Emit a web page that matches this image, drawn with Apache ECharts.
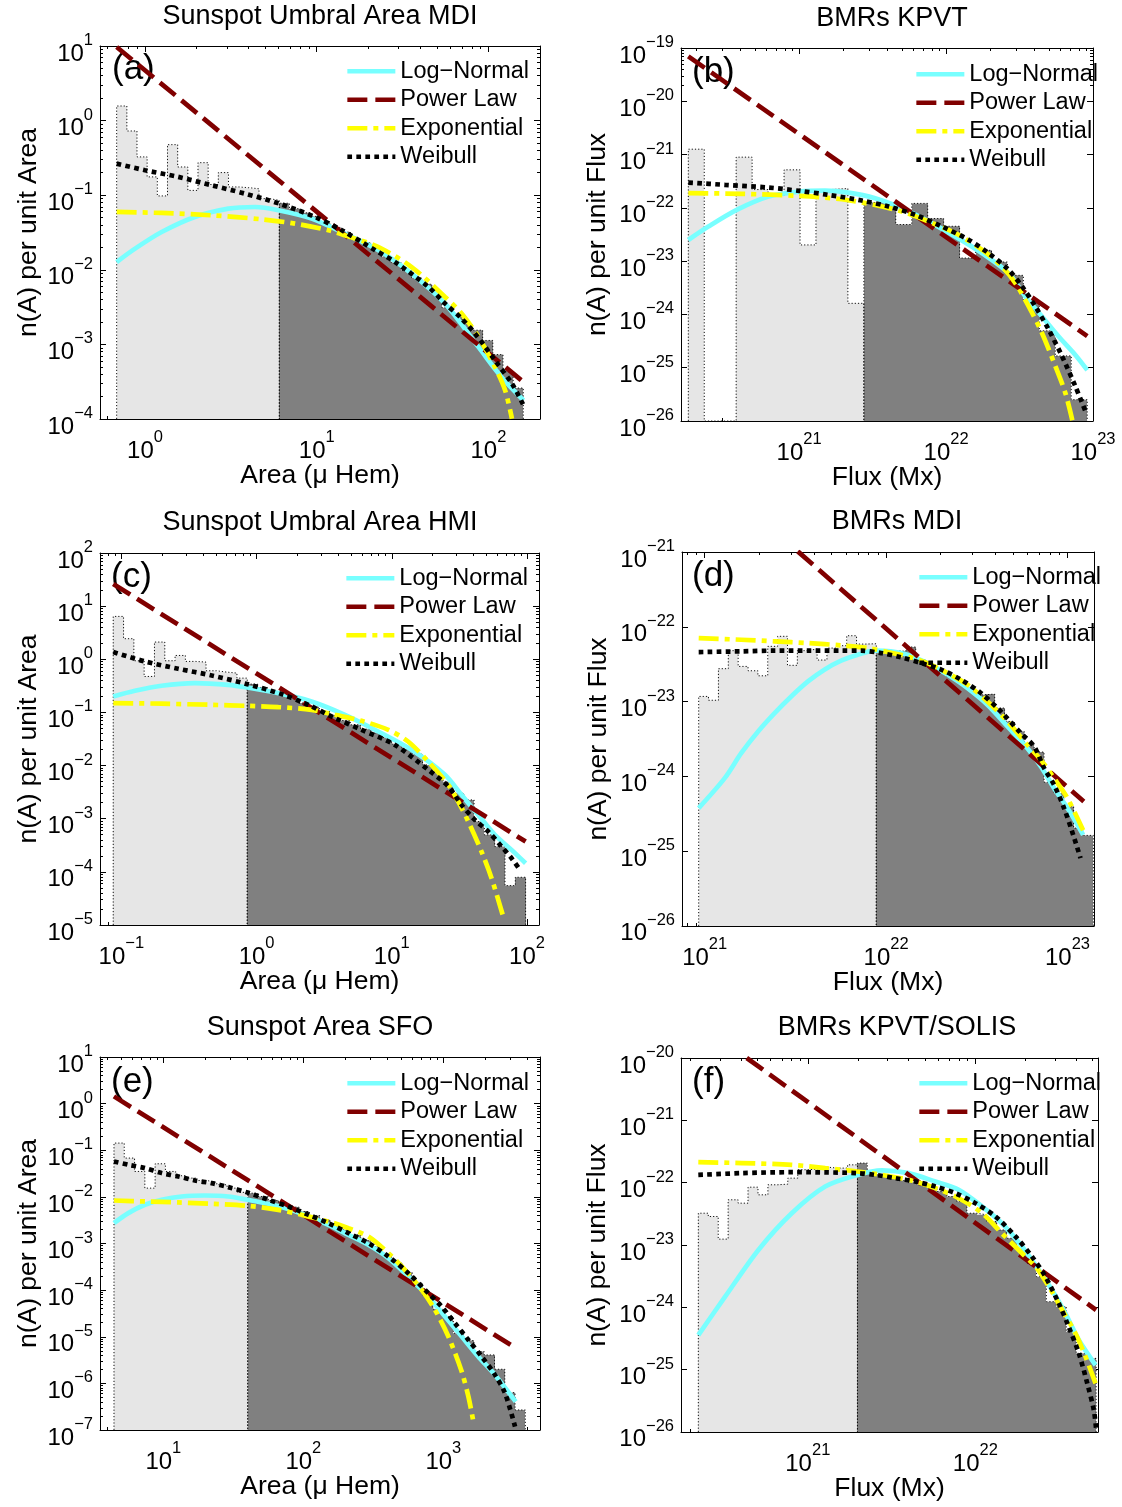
<!DOCTYPE html>
<html><head><meta charset="utf-8">
<script src="https://cdn.jsdelivr.net/npm/echarts@6/dist/echarts.min.js"></script>
<style>html,body{margin:0;padding:0;background:#fff}#main{width:1122px;height:1507px}</style>
</head><body><div id="main"></div>
<script>
// ---------------- DATA ----------------
const seriesNames = ['Log\u2212Normal', 'Power Law', 'Exponential', 'Weibull'];

// (a) Sunspot Umbral Area MDI
const aEdges = [0.684,0.784,0.898,1.029,1.180,1.352,1.550,1.776,2.035,2.332,2.673,3.063,3.511,4.023,4.611,5.284,6.056,6.940,7.954,9.116,10.45,11.97,13.72,15.73,18.02,20.65,23.67,27.13,31.09,35.63,40.83,46.80,53.63,61.47,70.45,80.72,92.52,106.0,121.5,139.3,159.6];
const aCounts = [1.57,0.726,0.326,0.176,0.0978,0.476,0.239,0.116,0.273,0.139,0.201,0.129,0.126,0.122,0.0899,0.0855,
  0.078,0.066,0.058,0.052,0.044,0.037,0.032,0.026,0.023,0.019,0.0150,0.0125,0.0098,0.0078,0.0064,0.0048,0.0031,0.0026,0.0019,0.00155,0.00113,0.00073,0.00043,0.00026];
const aCut = 6.056;
const aLogNormal = [[0.684,0.0127],[0.875,0.0192],[1.25,0.0321],[1.95,0.0511],[3.06,0.0661],[4.37,0.0695],[5.98,0.0628],[9.35,0.0485],[14.6,0.0305],[22.9,0.0183],[35.7,0.00889],[55.9,0.00352],[87.4,0.000925],[119,0.000366],[160,0.000178]];
const aPower = [[0.684,9.70],[160,3.13e-4]];
const aExp = [[0.684,0.0596],[1.25,0.0578],[2.44,0.0538],[4.78,0.0475],[7.48,0.0416],[11.7,0.0339],[16.7,0.0262],[22.9,0.0202],[35.7,0.0109],[55.9,0.00433],[69.8,0.00259],[87.4,0.00126],[109,0.000499],[125,0.000243],[137,0.000101]];
const aWeibull = [[0.684,0.265],[1.0,0.216],[1.56,0.176],[2.44,0.136],[3.82,0.105],[6.06,0.0771],[9.77,0.0511],[14.0,0.0339],[21.9,0.0183],[28.6,0.0127],[44.7,0.00589],[55.9,0.00352],[68.3,0.00233],[83.5,0.00140],[109,0.000613],[137,0.000298],[160,0.000153]];

// (b) BMRs KPVT
const bEdges = [1.761e20,2.261e20,2.903e20,3.727e20,4.786e20,6.147e20,7.895e20,1.014e21,1.302e21,1.672e21,2.146e21,2.756e21,3.539e21,4.545e21,5.838e21,7.496e21,9.625e21,1.236e22,1.587e22,2.038e22,2.617e22,3.360e22,4.315e22,5.542e22,7.116e22,9.140e22];
const bCounts = [1.26e-21,0,0,8.93e-22,2.2e-22,1.7e-22,5.16e-22,2.01e-23,2.2e-22,2.3e-22,1.61e-24,
  1.26e-22,1.26e-22,4.86e-23,1.21e-22,6.3e-23,4.5e-23,1.14e-23,1.59e-23,9.6e-24,5.4e-24,1.82e-24,4.9e-25,1.66e-25,2.5e-26];
const bCut = 2.756e21;
const bLogNormal = [[1.76e20,2.49e-23],[2.41e20,4.44e-23],[3.76e20,9.14e-23],[6.18e20,1.63e-22],[1e21,2.02e-22],[1.50e21,2.11e-22],[2.17e21,1.93e-22],[3.29e21,1.51e-22],[5.01e21,9.82e-23],[7.62e21,5.51e-23],[1.16e22,2.88e-23],[1.76e22,1.40e-23],[2.67e22,5.89e-24],[3.47e22,2.14e-24],[4.51e22,9.02e-25],[5.86e22,3.79e-25],[7.61e22,1.71e-25],[9.14e22,8.97e-26]];
const bPower = [[1.76e20,6.97e-20],[9.14e22,3.91e-25]];
const bExp = [[1.76e20,1.88e-22],[4.06e20,1.83e-22],[1e21,1.67e-22],[1.95e21,1.45e-22],[3.29e21,1.13e-22],[5.01e21,8.50e-23],[7.62e21,5.51e-23],[1.16e22,3.33e-23],[1.76e22,1.62e-23],[2.41e22,7.86e-24],[2.97e22,3.82e-24],[3.66e22,1.39e-24],[4.51e22,4.38e-25],[5.56e22,1.04e-25],[6.50e22,3.27e-26],[7.23e22,1.03e-26]];
const bWeibull = [[1.76e20,2.98e-22],[3.13e20,2.70e-22],[6.18e20,2.40e-22],[1e21,2.08e-22],[1.58e21,1.75e-22],[2.67e21,1.37e-22],[4.06e21,1.06e-22],[6.18e21,7.36e-23],[9.40e21,4.44e-23],[1.43e22,2.49e-23],[1.95e22,1.40e-23],[2.67e22,6.81e-24],[3.30e22,3.30e-24],[4.06e22,1.39e-24],[5.01e22,5.07e-25],[6.18e22,1.60e-25],[7.61e22,4.36e-26],[8.91e22,1.48e-26]];

// (c) Sunspot Umbral Area HMI
const cEdges = [0.08706,0.1038,0.1237,0.1474,0.1757,0.2095,0.2496,0.2975,0.3547,0.4227,0.5039,0.6006,0.7159,0.8533,1.017,1.212,1.445,1.722,2.053,2.447,2.917,3.476,4.144,4.939,5.887,7.017,8.364,9.967,11.88,14.16,16.88,20.12,23.98,28.58,34.07,40.61,48.40,57.69,68.76,81.96,97.68];
const cCounts = [6.41,2.44,0.938,0.475,2.11,0.938,1.18,0.912,0.885,0.608,0.574,0.550,0.442,
  0.341,0.295,0.248,0.215,0.181,0.150,0.126,0.104,0.0865,0.0706,0.0585,0.0485,0.0408,0.0338,0.0253,0.0207,0.0164,0.0103,0.00773,0.00486,0.00302,0.00226,0.000885,0.000497,0.000299,5.51e-5,7.91e-5];
const cCut = 0.8533;
const cLogNormal = [[0.0871,0.200],[0.126,0.255],[0.198,0.318],[0.350,0.356],[0.617,0.331],[0.853,0.295],[1.45,0.231],[2.55,0.161],[4.50,0.0902],[7.94,0.0438],[14.0,0.0198],[24.7,0.00669],[32.8,0.00281],[43.6,0.00118],[57.9,0.000496],[76.9,0.000259],[97.7,0.000145]];
const cPower = [[0.0871,26.1],[97.7,3.72e-4]];
const cExp = [[0.0871,0.150],[0.198,0.146],[0.465,0.139],[0.853,0.133],[1.45,0.126],[2.55,0.112],[3.80,0.0902],[5.98,0.0695],[9.42,0.0471],[13.2,0.0284],[18.6,0.0119],[26.2,0.00434],[31.0,0.00210],[36.8,0.000885],[46.1,0.000241],[54.7,7.59e-5],[66.7,1.44e-5]];
const cWeibull = [[0.0871,1.37],[0.149,0.912],[0.263,0.664],[0.465,0.497],[0.853,0.341],[1.53,0.221],[2.41,0.139],[3.80,0.0782],[5.98,0.0471],[10.5,0.0246],[18.6,0.00832],[26.2,0.00404],[32.8,0.00182],[41.2,0.000951],[51.7,0.000573],[64.9,0.000299],[76.9,0.000180],[88.7,0.000109]];

// (d) BMRs MDI
const dEdges = [9.268e20,1.050e21,1.191e21,1.350e21,1.530e21,1.734e21,1.965e21,2.227e21,2.524e21,2.861e21,3.243e21,3.675e21,4.166e21,4.721e21,5.351e21,6.065e21,6.874e21,7.791e21,8.831e21,1.001e22,1.134e22,1.286e22,1.457e22,1.652e22,1.872e22,2.122e22,2.405e22,2.726e22,3.090e22,3.502e22,3.969e22,4.499e22,5.099e22,5.779e22,6.550e22,7.425e22,8.414e22,9.537e22,1.081e23,1.225e23,1.389e23];
const dCounts = [1.17e-23,1.04e-23,2.75e-23,4.79e-23,2.95e-23,2.58e-23,2.21e-23,5.47e-23,7.45e-23,3.05e-23,4.79e-23,5.04e-23,3.59e-23,5.19e-23,5.58e-23,7.59e-23,5.87e-23,5.93e-23,
  4.83e-23,4.79e-23,4.69e-23,5.36e-23,3.62e-23,3.10e-23,2.67e-23,2.17e-23,1.86e-23,1.51e-23,1.23e-23,1.26e-23,8.18e-24,5.42e-24,3.98e-24,2.64e-24,2.11e-24,8.35e-25,5.95e-25,3.95e-25,2.03e-25,1.62e-25];
const dCut = 8.831e21;
const dLogNormal = [[9.27e20,3.76e-25],[1.29e21,9.46e-25],[1.59e21,2.04e-24],[1.97e21,3.98e-24],[2.43e21,7.01e-24],[3.00e21,1.17e-23],[3.71e21,1.86e-23],[4.57e21,2.67e-23],[5.65e21,3.52e-23],[6.98e21,4.23e-23],[8.63e21,4.79e-23],[1.06e22,4.69e-23],[1.31e22,4.23e-23],[1.69e22,3.27e-23],[2.18e22,2.29e-23],[2.81e22,1.51e-23],[3.62e22,9.05e-24],[4.67e22,4.65e-24],[6.01e22,2.38e-24],[7.13e22,1.35e-24],[8.43e22,6.95e-25],[1.00e23,3.76e-25],[1.22e23,1.65e-25]];
const dPower = [[3.26e21,1.02e-21],[1.23e23,4.61e-25]];
const dExp = [[9.27e20,7.06e-23],[1.59e21,6.71e-23],[2.43e21,6.38e-23],[3.71e21,6.05e-23],[5.65e21,5.64e-23],[7.92e21,5.19e-23],[1.02e22,4.59e-23],[1.31e22,4.02e-23],[1.69e22,3.27e-23],[2.18e22,2.40e-23],[2.81e22,1.68e-23],[3.62e22,1.00e-23],[4.67e22,5.42e-24],[6.01e22,2.64e-24],[7.13e22,1.66e-24],[8.43e22,9.46e-25],[1.00e23,5.11e-25],[1.24e23,1.74e-25]];
const dWeibull = [[9.27e20,4.59e-23],[1.59e21,4.69e-23],[2.43e21,4.79e-23],[3.71e21,4.79e-23],[5.65e21,4.79e-23],[7.28e21,4.79e-23],[9.38e21,4.45e-23],[1.21e22,3.90e-23],[1.56e22,3.27e-23],[2.01e22,2.67e-23],[2.59e22,1.96e-23],[3.33e22,1.30e-23],[4.29e22,7.38e-24],[5.53e22,3.78e-24],[6.55e22,2.51e-24],[7.43e22,1.29e-24],[8.43e22,7.70e-25],[9.57e22,3.76e-25],[1.06e23,1.83e-25],[1.18e23,8.04e-26]];

// (e) Sunspot Area SFO
const eEdges = [4.443,5.261,6.231,7.379,8.738,10.35,12.25,14.51,17.19,20.35,24.10,28.55,33.81,40.04,47.42,56.16,66.51,78.76,93.27,110.5,130.8,154.9,183.5,217.3,257.3,304.7,360.9,427.4,506.1,599.4,709.8,840.6,995.4,1179,1396,1653,1958,2319,2746,3252,3852];
const eCounts = [0.1426,0.0679,0.0351,0.0154,0.0513,0.0351,0.0284,0.0253,0.0225,0.0204,0.0182,0.0154,0.0125,
  0.0120,0.0102,0.00837,0.00711,0.00603,0.00486,0.00399,0.00322,0.00252,0.00196,0.00153,0.00116,0.000862,0.000600,0.000391,0.000238,0.000141,7.91e-5,3.89e-5,2.71e-5,1.19e-5,8.28e-6,4.81e-6,4.07e-6,2.01e-6,6.32e-7,2.69e-7];
const eCut = 40.04;
const eLogNormal = [[4.44,0.00273],[5.62,0.00448],[7.39,0.00676],[9.73,0.00865],[13.5,0.0102],[19.8,0.0107],[29.1,0.0102],[40.0,0.00865],[56.2,0.00711],[78.1,0.00546],[109,0.00380],[151,0.00252],[210,0.00153],[291,0.000936],[405,0.000484],[562,0.000196],[781,7.28e-5],[1028,2.71e-5],[1352,1.01e-5],[1778,3.75e-6],[2338,1.52e-6],[3286,4.06e-7]];
const ePower = [[4.44,1.43],[3162,6.15e-6]];
const eExp = [[4.44,0.00837],[7.39,0.00797],[12.8,0.00759],[22.1,0.00711],[40.0,0.00644],[66.2,0.00528],[97.3,0.00412],[151,0.00297],[210,0.00213],[291,0.00141],[405,0.000620],[532,0.000272],[700,0.000101],[871,3.77e-5],[1086,1.01e-5],[1352,1.79e-6],[1510,5.2e-7],[1638,1.51e-7]];
const eWeibull = [[4.44,0.0575],[5.62,0.0489],[7.39,0.0414],[9.73,0.0324],[12.8,0.0274],[16.8,0.0225],[22.1,0.0197],[29.1,0.0162],[40.0,0.0124],[56.2,0.00865],[78.1,0.00622],[109,0.00412],[151,0.00273],[210,0.00167],[291,0.00102],[405,0.000526],[562,0.000231],[781,8.59e-5],[972,4.45e-5],[1211,1.95e-5],[1510,8.55e-6],[1878,3.75e-6],[2338,1.52e-6],[2757,6.12e-7],[3251,1.18e-7]];

// (f) BMRs KPVT/SOLIS
const fEdges = [2.221e20,2.546e20,2.919e20,3.346e20,3.836e20,4.398e20,5.042e20,5.780e20,6.627e20,7.597e20,8.710e20,9.990e20,1.145e21,1.313e21,1.505e21,1.726e21,1.979e21,2.268e21,2.601e21,2.982e21,3.419e21,3.920e21,4.494e21,5.152e21,5.907e21,6.772e21,7.764e21,8.901e21,1.021e22,1.170e22,1.341e22,1.538e22,1.763e22,2.022e22,2.318e22,2.657e22,3.046e22,3.493e22,4.004e22,4.591e22,5.263e22];
const fCounts = [3.23e-23,2.86e-23,1.24e-23,5.30e-23,4.68e-23,8.45e-23,6.37e-23,9.23e-23,9.45e-23,1.18e-22,1.61e-22,1.65e-22,1.77e-22,1.71e-22,1.71e-22,1.93e-22,
  2.06e-22,1.51e-22,1.33e-22,1.18e-22,1.08e-22,1.00e-22,9.23e-23,8.15e-23,7.21e-23,5.99e-23,4.98e-23,3.23e-23,3.04e-23,2.37e-23,1.74e-23,1.28e-23,8.32e-24,5.08e-24,3.10e-24,1.23e-24,1.02e-24,4.06e-25,1.82e-25,1.51e-25];
const fCut = 1.979e21;
const fLogNormal = [[2.22e20,3.58e-25],[3.21e20,1.48e-24],[5.07e20,8.32e-24],[8.02e20,3.23e-23],[1.27e21,8.67e-23],[1.98e21,1.33e-22],[2.77e21,1.57e-22],[4.00e21,1.42e-22],[5.77e21,1.04e-22],[7.96e21,7.66e-23],[1.10e22,4.13e-23],[1.44e22,2.23e-23],[1.90e22,9.41e-24],[2.39e22,3.97e-24],[2.87e22,1.89e-24],[3.45e22,8.00e-25],[4.15e22,2.98e-25],[5.22e22,1.18e-25]];
const fPower = [[4.32e20,1e-20],[5.26e22,9.04e-25]];
const fExp = [[2.22e20,2.13e-22],[4.03e20,2.06e-22],[8.02e20,1.93e-22],[1.27e21,1.71e-22],[1.98e21,1.51e-22],[2.77e21,1.33e-22],[4.00e21,1.11e-22],[5.77e21,8.15e-23],[7.96e21,5.62e-23],[1.10e22,3.23e-23],[1.44e22,1.54e-23],[1.90e22,7.36e-24],[2.29e22,4.49e-24],[2.75e22,2.14e-24],[3.30e22,9.04e-25],[3.96e22,3.81e-25],[4.55e22,1.61e-25],[5.22e22,6.00e-26]];
const fWeibull = [[2.22e20,1.33e-22],[4.03e20,1.42e-22],[8.02e20,1.47e-22],[1.27e21,1.46e-22],[1.98e21,1.42e-22],[2.53e21,1.33e-22],[3.32e21,1.18e-22],[4.38e21,1.04e-22],[5.77e21,8.67e-23],[7.60e21,6.77e-23],[1.00e22,4.68e-23],[1.32e22,2.86e-23],[1.74e22,1.36e-23],[2.18e22,6.50e-24],[2.62e22,3.10e-24],[3.15e22,1.16e-24],[3.61e22,4.88e-25],[4.15e22,1.82e-25],[4.66e22,6.00e-26],[5.10e22,2.23e-26],[5.26e22,1.13e-26]];

// ---------------- LAYOUT / STYLE ----------------
const FONT = '"Liberation Sans", Arial, Helvetica, sans-serif';
const panels = [
  {title:'Sunspot Umbral Area MDI', letter:'(a)', xName:'Area (\u03bc Hem)', yName:'n(A) per unit Area',
   edges:aEdges, counts:aCounts, cut:aCut, curves:[aLogNormal,aPower,aExp,aWeibull],
   grid:{left:100,top:46,width:440,height:373}, xRange:[0.547,199.6], yRange:[1e-4,10],
   titlePos:[320,16.5], letterPos:[112,69], legendPos:[345,57], yNameGap:58},
  {title:'BMRs KPVT', letter:'(b)', xName:'Flux (Mx)', yName:'n(A) per unit Flux',
   edges:bEdges, counts:bCounts, cut:bCut, curves:[bLogNormal,bPower,bExp,bWeibull],
   grid:{left:681,top:48,width:412,height:373}, xRange:[1.57e20,1e23], yRange:[0.995e-26,1e-19],
   titlePos:[892,19], letterPos:[692,72], legendPos:[914,60], yNameGap:70},
  {title:'Sunspot Umbral Area HMI', letter:'(c)', xName:'Area (\u03bc Hem)', yName:'n(A) per unit Area',
   edges:cEdges, counts:cCounts, cut:cCut, curves:[cLogNormal,cPower,cExp,cWeibull],
   grid:{left:100,top:553,width:439,height:372}, xRange:[0.0695,122.7], yRange:[1e-5,100],
   titlePos:[320,523], letterPos:[111,577], legendPos:[344,564], yNameGap:58},
  {title:'BMRs MDI', letter:'(d)', xName:'Flux (Mx)', yName:'n(A) per unit Flux',
   edges:dEdges, counts:dCounts, cut:dCut, curves:[dLogNormal,dPower,dExp,dWeibull],
   grid:{left:682,top:552,width:412,height:374}, xRange:[7.5e20,1.4e23], yRange:[0.995e-26,1e-21],
   titlePos:[897,522], letterPos:[692,576], legendPos:[917,563], yNameGap:70},
  {title:'Sunspot Area SFO', letter:'(e)', xName:'Area (\u03bc Hem)', yName:'n(A) per unit Area',
   edges:eEdges, counts:eCounts, cut:eCut, curves:[eLogNormal,ePower,eExp,eWeibull],
   grid:{left:100,top:1057,width:440,height:373}, xRange:[3.53,4900], yRange:[1e-7,10],
   titlePos:[320,1028], letterPos:[111,1082], legendPos:[345,1069], yNameGap:58},
  {title:'BMRs KPVT/SOLIS', letter:'(f)', xName:'Flux (Mx)', yName:'n(A) per unit Flux',
   edges:fEdges, counts:fCounts, cut:fCut, curves:[fLogNormal,fPower,fExp,fWeibull],
   grid:{left:681,top:1058,width:417,height:374}, xRange:[1.75e20,5.4e22], yRange:[0.995e-26,1e-20],
   titlePos:[897,1028], letterPos:[692,1082], legendPos:[917,1069], yNameGap:70}
];
const curveStyles = [
  {color:'#78ffff', width:4.7, type:'solid', smooth:0.3},
  {color:'#800000', width:4.7, type:[20,8], smooth:false},
  {color:'#ffff00', width:4.7, type:[20,6,5,6], smooth:0.3},
  {color:'#000000', width:4.7, type:[4.7,4.3], smooth:0.3}
];
const LIGHT = '#e6e6e6', DARK = '#808080';

const RICH = {
  b:{fontSize:24, fontFamily:FONT, color:'#000', lineHeight:34, verticalAlign:'bottom'},
  s:{fontSize:16.5, fontFamily:FONT, color:'#000', lineHeight:12, verticalAlign:'top'}
};
function supLabel(v) {
  if (!(v > 0)) return '';
  const l = Math.log10(v), e = Math.round(l);
  if (Math.abs(l - e) > 1e-6) return '';
  return '{b|10}{s|' + (e < 0 ? '\u2212' + (-e) : String(e)) + '}';
}
function renderHist(params, api) {
  const x0 = api.value(0), x1 = api.value(1), y = api.value(2), dark = api.value(3);
  const p0 = api.coord([x0, y]), p1 = api.coord([x1, y]);
  const cs = params.coordSys;
  const bottom = cs.y + cs.height;
  const top = Math.max(p0[1], cs.y);
  const xl = Math.round(p0[0]), xr = Math.round(p1[0]);
  return {type:'rect', shape:{x:xl, y:top, width:xr-xl, height:bottom-top},
          style:{fill: dark ? DARK : LIGHT}};
}

const grids = [], xAxes = [], yAxes = [], series = [], legends = [], graphics = [];
const tick = {show:true, inside:true, length:6, lineStyle:{color:'#000', width:1}};
const minor = {show:true, splitNumber:9, length:3, lineStyle:{color:'#000', width:1}};
const line = {show:true, onZero:false, lineStyle:{color:'#000', width:1}};
const nameStyle = {fontSize:26.5, fontFamily:FONT, color:'#000'};

panels.forEach((p, i) => {
  grids.push(Object.assign({show:false, outerBoundsMode:'none', containLabel:false}, p.grid));
  ['bottom','top'].forEach(pos => {
    const main = pos === 'bottom';
    xAxes.push({type:'log', logBase:10, gridIndex:i, position:pos, min:p.xRange[0], max:p.xRange[1],
      axisLine:line, axisTick:tick, minorTick:minor, splitLine:{show:false}, minorSplitLine:{show:false},
      axisLabel:{show:main, margin:10, formatter:supLabel, rich:RICH, color:'#000', showMinLabel:true, showMaxLabel:true},
      name: main ? p.xName : '', nameLocation:'middle', nameGap:43, nameMoveOverlap:false, nameTextStyle:nameStyle, silent:true});
  });
  ['left','right'].forEach(pos => {
    const main = pos === 'left';
    yAxes.push({type:'log', logBase:10, gridIndex:i, position:pos, min:p.yRange[0], max:p.yRange[1],
      axisLine:line, axisTick:tick, minorTick:minor, splitLine:{show:false}, minorSplitLine:{show:false},
      axisLabel:{show:main, margin:7, formatter:supLabel, rich:RICH, color:'#000', padding:[6,0,0,0], showMinLabel:true, showMaxLabel:true},
      name: main ? p.yName : '', nameLocation:'middle', nameGap:p.yNameGap, nameMoveOverlap:false, nameTextStyle:nameStyle, silent:true});
  });
  const xi = 2*i, yi = 2*i;
  const yMin = p.yRange[0];
  const n = p.counts.length;
  const bins = p.counts.map((c, k) => [p.edges[k], p.edges[k+1], Math.max(c, yMin), p.edges[k] >= p.cut*0.9999 ? 1 : 0]);
  series.push({type:'custom', name:'hist'+i, xAxisIndex:xi, yAxisIndex:yi, renderItem:renderHist,
    data:bins, encode:{x:[0,1], y:2}, silent:true, animation:false});
  const pts = [[p.edges[0], yMin]];
  p.counts.forEach((c, k) => {
    const h = Math.max(c, yMin);
    if (k > 0 && Math.abs(p.edges[k] - p.cut) < p.cut*1e-4) pts.push([p.edges[k], yMin]);
    pts.push([p.edges[k], h], [p.edges[k+1], h]);
  });
  pts.push([p.edges[n], yMin]);
  series.push({type:'line', name:'outline'+i, xAxisIndex:xi, yAxisIndex:yi, data:pts, symbol:'none',
    lineStyle:{color:'#111', width:1, type:[1.2,2]}, silent:true, animation:false});
  p.curves.forEach((d, k) => {
    const st = curveStyles[k];
    series.push({type:'line', name:seriesNames[k], xAxisIndex:xi, yAxisIndex:yi, data:d, symbol:'none', showSymbol:false,
      smooth:st.smooth, color:st.color, itemStyle:{color:st.color},
      lineStyle:{color:st.color, width:st.width, type:st.type, cap:'butt'}, silent:true, animation:false});
  });
  legends.push({orient:'vertical', left:p.legendPos[0], top:p.legendPos[1], padding:0, itemGap:0,
    itemWidth:48, itemHeight:14, selectedMode:false, data:seriesNames,
    itemStyle:{opacity:0, borderWidth:0}, lineStyle:{width:4.7},
    textStyle:{fontSize:23.5, fontFamily:FONT, color:'#000', lineHeight:28.5, padding:[0,0,0,0]}});
  graphics.push({type:'text', x:p.titlePos[0], y:p.titlePos[1], silent:true,
    style:{text:p.title, fill:'#000', fontSize:27, fontFamily:FONT, align:'center', verticalAlign:'middle', textAlign:'center', textVerticalAlign:'middle'}});
  graphics.push({type:'text', x:p.letterPos[0], y:p.letterPos[1], silent:true,
    style:{text:p.letter, fill:'#000', fontSize:35, fontFamily:FONT, align:'left', verticalAlign:'middle', textAlign:'left', textVerticalAlign:'middle'}});
});

const chart = echarts.init(document.getElementById('main'), null, {renderer:'canvas'});
chart.setOption({
  animation:false, backgroundColor:'#fff',
  grid:grids, xAxis:xAxes, yAxis:yAxes, series:series, legend:legends, graphic:{elements:graphics}
});
</script></body></html>
